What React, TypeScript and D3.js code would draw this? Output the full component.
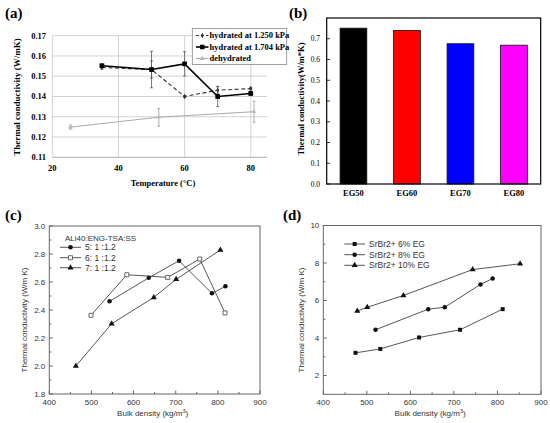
import React from 'react';
import * as d3 from 'd3';

// ---- (a) thermal conductivity vs temperature ----
const hyd1250X = [35, 50, 60, 70, 80];
const hyd1250Y = [0.1543, 0.1533, 0.140, 0.1431, 0.1439];
const hyd1250Err = [0.0008, 0.0042, 0.0005, 0.0018, 0.0006];
const hyd1704X = [35, 50, 60, 70, 80];
const hyd1704Y = [0.1552, 0.1533, 0.1561, 0.1400, 0.1415];
const hyd1704Err = [0.0008, 0.009, 0.006, 0.005, 0.001];
const dehydX = [25.5, 52.2, 81];
const dehydY = [0.1249, 0.1298, 0.1325];
const dehydErr = [0.001, 0.0044, 0.0052];
const legendA = ['hydrated at 1.250 kPa', 'hydrated at 1.704 kPa', 'dehydrated'];

// ---- (b) bars ----
const egCategories = ['EG50', 'EG60', 'EG70', 'EG80'];
const egValues = [0.751, 0.740, 0.676, 0.669];
const egColors = ['#000000', '#ff0000', '#0000ff', '#ff00ff'];

// ---- (c) ALi40:ENG-TSA:SS ----
const c5X = [543, 636, 708, 786, 818];
const c5Y = [2.462, 2.63, 2.752, 2.519, 2.569];
const c6X = [499, 584, 681, 757, 817];
const c6Y = [2.362, 2.652, 2.633, 2.764, 2.379];
const c7X = [463, 548, 648, 701, 806];
const c7Y = [2.0, 2.302, 2.49, 2.619, 2.829];
const legendC = ['5: 1 :1.2', '6: 1 :1.2', '7: 1 :1.2'];

// ---- (d) SrBr2 + EG ----
const d6X = [474, 531, 620, 714, 812];
const d6Y = [3.21, 3.42, 4.03, 4.44, 5.54];
const d8X = [520, 641, 679, 761, 789];
const d8Y = [4.44, 5.54, 5.64, 6.86, 7.17];
const d10X = [478, 501, 584, 743, 852];
const d10Y = [5.44, 5.64, 6.27, 7.65, 7.96];
const legendD = ['SrBr2+ 6% EG', 'SrBr2+ 8% EG', 'SrBr2+ 10% EG'];

const serif = '"Liberation Serif", "Times New Roman", serif';
const sans = '"Liberation Sans", Arial, sans-serif';

const sym = (type: d3.SymbolType, size: number) => d3.symbol().type(type).size(size)() || '';
const zip = (xs: number[], ys: number[]) => xs.map((v, i) => [v, ys[i]] as [number, number]);

const PanelA = () => {
  const x = d3.scaleLinear().domain([20, 85]).range([52.3, 267.3]);
  const y = d3.scaleLinear().domain([0.11, 0.17]).range([157.3, 35.7]);
  const line = d3.line<[number, number]>().x(d => x(d[0])).y(d => y(d[1]));
  const yTicks = y.ticks(6);
  const xTicks = [20, 40, 60, 80];
  const fmt = d3.format('.2f');

  const errBars = (xs: number[], ys: number[], es: number[], color: string) =>
    xs.map((v, i) => (
      <g key={i} stroke={color} strokeWidth={0.8}>
        <line x1={x(v)} x2={x(v)} y1={y(ys[i] - es[i])} y2={y(ys[i] + es[i])} />
        <line x1={x(v) - 1.5} x2={x(v) + 1.5} y1={y(ys[i] - es[i])} y2={y(ys[i] - es[i])} />
        <line x1={x(v) - 1.5} x2={x(v) + 1.5} y1={y(ys[i] + es[i])} y2={y(ys[i] + es[i])} />
      </g>
    ));

  return (
    <g fontFamily={serif} fontWeight="bold">
      <text x={5} y={18} fontSize={15}>(a)</text>
      {yTicks.map(t => (
        <g key={t}>
          <line x1={x(20)} x2={x(85)} y1={y(t)} y2={y(t)} stroke={t === 0.11 ? '#999' : '#c8c8c8'} strokeWidth={0.8} />
          <text x={46} y={y(t)} dy="0.35em" fontSize={8.5} textAnchor="end">{fmt(t)}</text>
        </g>
      ))}
      {xTicks.map(t => (
        <g key={t}>
          <line x1={x(t)} x2={x(t)} y1={y(0.17)} y2={y(0.11)} stroke="#c8c8c8" strokeWidth={0.8} />
          <text x={x(t)} y={171} fontSize={8.5} textAnchor="middle">{t}</text>
        </g>
      ))}
      <text transform={`translate(20,97) rotate(-90)`} fontSize={9} textAnchor="middle">Thermal conductivity (W/mK)</text>
      <text x={163} y={186} fontSize={8.5} textAnchor="middle">Temperature (°C)</text>

      <path d={line(zip(dehydX, dehydY)) || ''} fill="none" stroke="#aaa" strokeWidth={1} />
      {errBars(dehydX, dehydY, dehydErr, '#999')}
      {zip(dehydX, dehydY).map((d, i) => (
        <path key={i} d={sym(d3.symbolTriangle, 10)} transform={`translate(${x(d[0])},${y(d[1])})`} fill="#bbb" />
      ))}

      <path d={line(zip(hyd1250X, hyd1250Y)) || ''} fill="none" stroke="#333" strokeWidth={1.1} strokeDasharray="4,2.5" />
      {errBars(hyd1250X, hyd1250Y, hyd1250Err, '#555')}
      {zip(hyd1250X, hyd1250Y).map((d, i) => (
        <path key={i} d={sym(d3.symbolDiamond, 8)} transform={`translate(${x(d[0])},${y(d[1])})`} fill="#333" />
      ))}

      <path d={line(zip(hyd1704X, hyd1704Y)) || ''} fill="none" stroke="#000" strokeWidth={1.6} />
      {errBars(hyd1704X, hyd1704Y, hyd1704Err, '#555')}
      {zip(hyd1704X, hyd1704Y).map((d, i) => (
        <path key={i} d={sym(d3.symbolSquare, 22)} transform={`translate(${x(d[0])},${y(d[1])})`} fill="#000" />
      ))}

      <rect x={192.3} y={28.5} width={94.4} height={36} fill="#fff" stroke="#888" strokeWidth={0.8} />
      {legendA.map((lab, i) => {
        const ly = [35.5, 47, 58.5][i];
        return (
          <g key={lab}>
            <line x1={196} x2={208.5} y1={ly} y2={ly}
              stroke={i === 2 ? '#aaa' : i === 0 ? '#333' : '#000'}
              strokeWidth={i === 1 ? 1.6 : 1.1}
              strokeDasharray={i === 0 ? '3,2' : undefined} />
            <path transform={`translate(202.3,${ly})`}
              d={i === 0 ? sym(d3.symbolDiamond, 8) : i === 1 ? sym(d3.symbolSquare, 20) : sym(d3.symbolTriangle, 10)}
              fill={i === 2 ? '#bbb' : i === 0 ? '#333' : '#000'} />
            <text x={209.5} y={ly} dy="0.35em" fontSize={8.5}>{lab}</text>
          </g>
        );
      })}
    </g>
  );
};

const PanelB = () => {
  const x = d3.scaleBand().domain(egCategories).range([326.7, 540.7]).paddingInner(0.5).paddingOuter(0.25);
  const y = d3.scaleLinear().domain([0, 0.8]).range([184, 18]);
  const ticks = d3.range(0, 8).map(i => i / 10);
  return (
    <g fontFamily={serif} fontWeight="bold">
      <text x={289} y={18} fontSize={15}>(b)</text>
      {egCategories.map((c, i) => (
        <g key={c}>
          <rect x={x(c)} y={y(egValues[i])} width={x.bandwidth()} height={y(0) - y(egValues[i])}
            fill={egColors[i]} stroke="#111" strokeWidth={0.8} />
          <text x={(x(c) || 0) + x.bandwidth() / 2} y={196} fontSize={8.5} textAnchor="middle">{c}</text>
        </g>
      ))}
      <rect x={326.7} y={18} width={214} height={166} fill="none" stroke="#000" strokeWidth={1.2} />
      {ticks.map(t => (
        <g key={t}>
          <line x1={326.7} x2={330} y1={y(t)} y2={y(t)} stroke="#000" strokeWidth={0.8} />
          <text x={320} y={y(t)} dy="0.35em" fontSize={7.5} textAnchor="end" fontWeight="normal">{t.toFixed(1)}</text>
        </g>
      ))}
      <text transform={`translate(304,99) rotate(-90)`} fontSize={8.5} textAnchor="middle">Thermal conductivity(W/m*K)</text>
    </g>
  );
};

interface Series { xs: number[]; ys: number[]; symbol: d3.SymbolType; size: number; open?: boolean; }

interface OriginProps {
  label: string; labelX: number;
  xRange: [number, number]; yDomain: [number, number]; yRange: [number, number];
  yMajor: number[]; yMinor: number[]; yFmt: (v: number) => string;
  series: Series[];
  legendTitle?: string; legendTitleY?: number;
  legend: string[]; legendYs: number[]; legendX: [number, number];
  yTitleX: number;
}

const OriginPanel = (p: OriginProps) => {
  const x = d3.scaleLinear().domain([400, 900]).range(p.xRange);
  const y = d3.scaleLinear().domain(p.yDomain).range(p.yRange);
  const line = d3.line<[number, number]>().x(d => x(d[0])).y(d => y(d[1]));
  const xMajor = d3.range(400, 901, 100);
  const xMinor = d3.range(450, 900, 100);
  const [x0, x1] = p.xRange;
  const [yb, yt] = p.yRange;
  const mid = (x0 + x1) / 2;
  return (
    <g fontFamily={sans} fill="#333">
      <text x={p.labelX} y={220} fontSize={15} fontFamily={serif} fontWeight="bold" fill="#000">{p.label}</text>
      <rect x={x0} y={yt} width={x1 - x0} height={yb - yt} fill="none" stroke="#666" strokeWidth={1} />
      {xMajor.map(t => (
        <g key={t}>
          <line x1={x(t)} x2={x(t)} y1={yb} y2={yb - 3.5} stroke="#666" />
          <text x={x(t)} y={405} fontSize={8} textAnchor="middle">{t}</text>
        </g>
      ))}
      {xMinor.map(t => <line key={t} x1={x(t)} x2={x(t)} y1={yb} y2={yb - 2} stroke="#666" />)}
      {p.yMajor.map(t => (
        <g key={t}>
          <line x1={x0} x2={x0 + 3.5} y1={y(t)} y2={y(t)} stroke="#666" />
          <text x={x0 - 4} y={y(t)} dy="0.35em" fontSize={8} textAnchor="end">{p.yFmt(t)}</text>
        </g>
      ))}
      {p.yMinor.map(t => <line key={t} x1={x0} x2={x0 + 2} y1={y(t)} y2={y(t)} stroke="#666" />)}
      <text transform={`translate(${p.yTitleX},320) rotate(-90)`} fontSize={8} textAnchor="middle">Thermal conductivity (W/m K)</text>
      <text x={mid - 2} y={416} fontSize={8} textAnchor="middle">
        Bulk density (kg/m<tspan fontSize={5.5} dy={-3.5}>3</tspan><tspan dy={3.5}>)</tspan>
      </text>
      {p.series.map((s, i) => (
        <g key={i}>
          <path d={line(zip(s.xs, s.ys)) || ''} fill="none" stroke="#444" strokeWidth={0.9} />
          {zip(s.xs, s.ys).map((d, j) => (
            <path key={j} d={sym(s.symbol, s.size)} transform={`translate(${x(d[0])},${y(d[1])})`}
              fill={s.open ? '#fff' : '#111'} stroke={s.open ? '#444' : 'none'} strokeWidth={0.8} />
          ))}
        </g>
      ))}
      {p.legendTitle && (
        <text x={p.legendX[0] + 5} y={p.legendTitleY} dy="0.35em" fontSize={8}>{p.legendTitle}</text>
      )}
      {p.legend.map((lab, i) => {
        const s = p.series[i];
        const ly = p.legendYs[i];
        const [lx0, lx1] = p.legendX;
        return (
          <g key={lab}>
            <line x1={lx0} x2={lx1} y1={ly} y2={ly} stroke="#444" strokeWidth={0.9} />
            <path d={sym(s.symbol, s.size)} transform={`translate(${(lx0 + lx1) / 2},${ly})`}
              fill={s.open ? '#fff' : '#111'} stroke={s.open ? '#444' : 'none'} strokeWidth={0.8} />
            <text x={lx1 + 4} y={ly} dy="0.35em" fontSize={8.5}>{lab}</text>
          </g>
        );
      })}
    </g>
  );
};

const App: React.FC = () => {
  return (
    <svg width={550} height={423} viewBox="0 0 550 423"
      style={{ position: 'absolute', left: 0, top: 0, background: '#fff' }}>
      <rect width={550} height={423} fill="#fff" />
      <PanelA />
      <PanelB />
      <OriginPanel
        label="(c)" labelX={5}
        xRange={[49.3, 260]} yDomain={[1.8, 3.0]} yRange={[394, 226]}
        yMajor={d3.range(0, 7).map(i => 1.8 + i * 0.2)}
        yMinor={d3.range(0, 6).map(i => 1.9 + i * 0.2)}
        yFmt={d3.format('.1f')}
        series={[
          { xs: c5X, ys: c5Y, symbol: d3.symbolCircle, size: 16 },
          { xs: c6X, ys: c6Y, symbol: d3.symbolSquare, size: 16, open: true },
          { xs: c7X, ys: c7Y, symbol: d3.symbolTriangle, size: 16 },
        ]}
        legendTitle="ALi40:ENG-TSA:SS" legendTitleY={237.7}
        legend={legendC} legendYs={[247.3, 257.7, 267.7]} legendX={[60, 81]}
        yTitleX={27}
      />
      <OriginPanel
        label="(d)" labelX={283}
        xRange={[323.3, 541]} yDomain={[1, 10]} yRange={[394.3, 225.5]}
        yMajor={[2, 4, 6, 8, 10]}
        yMinor={[3, 5, 7, 9]}
        yFmt={d3.format('d')}
        series={[
          { xs: d6X, ys: d6Y, symbol: d3.symbolSquare, size: 16 },
          { xs: d8X, ys: d8Y, symbol: d3.symbolCircle, size: 16 },
          { xs: d10X, ys: d10Y, symbol: d3.symbolTriangle, size: 16 },
        ]}
        legend={legendD} legendYs={[244, 254.7, 265.3]} legendX={[344.3, 365]}
        yTitleX={304}
      />
    </svg>
  );
};

export default App;
